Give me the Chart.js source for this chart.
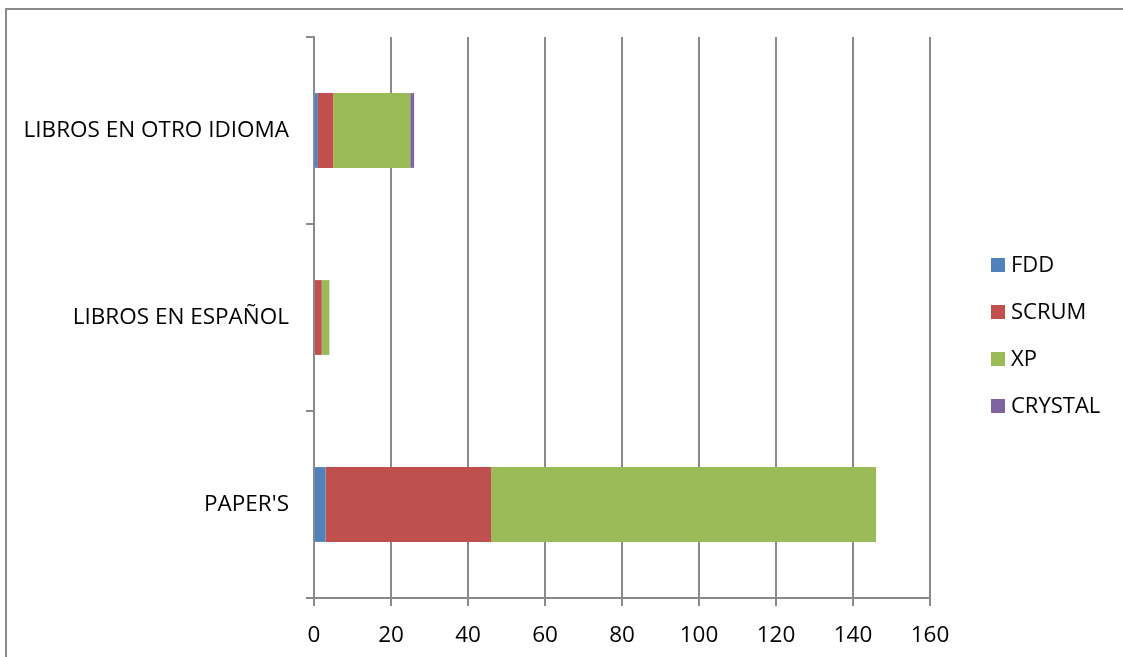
<!DOCTYPE html>
<html>
<head>
<meta charset="utf-8">
<title>Metodologías ágiles por tipo de fuente</title>
<script src="https://cdn.jsdelivr.net/npm/chart.js@4.4.1/dist/chart.umd.min.js"></script>
<style>
  html, body { margin: 0; padding: 0; background: #ffffff; }
  #wrap { position: relative; width: 1123px; height: 657px; }
  canvas { display: block; }
</style>
</head>
<body>
<div id="wrap"><canvas id="chart" width="1123" height="657"></canvas></div>
<script>
// Source types (top to bottom)
const categories = ['LIBROS EN OTRO IDIOMA', 'LIBROS EN ESPAÑOL', "PAPER'S"];

// Number of sources per methodology
const fddValues     = [1, 0, 3];
const scrumValues   = [4, 2, 43];
const xpValues      = [20, 2, 100];
const crystalValues = [1, 0, 0];

const seriesNames = ['FDD', 'SCRUM', 'XP', 'CRYSTAL'];

// Value axis ticks
const axisTicks = [0, 20, 40, 60, 80, 100, 120, 140, 160];

const FONT = '"Open Sans", "Liberation Sans", sans-serif';
const GRID = '#8a8a8a';

// Outer frame of the chart object
const framePlugin = {
  id: 'frame',
  beforeDraw(chart) {
    const ctx = chart.ctx;
    ctx.save();
    ctx.strokeStyle = GRID;
    ctx.lineWidth = 2;
    ctx.beginPath();
    ctx.moveTo(6, chart.height + 2);
    ctx.lineTo(6, 9);
    ctx.lineTo(chart.width + 2, 9);
    ctx.stroke();
    ctx.restore();
  }
};

// Legend on the right, built from the datasets
const sideLegend = {
  id: 'sideLegend',
  afterDraw(chart, args, opts) {
    const ctx = chart.ctx;
    ctx.save();
    ctx.font = opts.fontSize + 'px ' + FONT;
    ctx.textBaseline = 'middle';
    ctx.textAlign = 'left';
    chart.data.datasets.forEach((ds, i) => {
      const cy = opts.top + i * opts.spacing;
      ctx.fillStyle = ds.backgroundColor;
      ctx.fillRect(opts.left, cy - opts.box / 2, opts.box, opts.box);
      ctx.fillStyle = '#000000';
      ctx.fillText(ds.label, opts.left + opts.box + opts.gap, cy + 1);
    });
    ctx.restore();
  }
};

const colors = ['#4F81BD', '#C0504D', '#9BBB59', '#8064A2'];
const seriesValues = [fddValues, scrumValues, xpValues, crystalValues];

new Chart(document.getElementById('chart'), {
  type: 'bar',
  data: {
    labels: categories,
    datasets: seriesNames.map((name, i) => ({
      label: name,
      data: seriesValues[i],
      backgroundColor: colors[i],
      borderWidth: 0,
      barPercentage: 0.4,
      categoryPercentage: 1.0
    }))
  },
  options: {
    indexAxis: 'y',
    responsive: false,
    animation: false,
    devicePixelRatio: 1,
    layout: { padding: { left: 0, right: 193, top: 37, bottom: 0 } },
    plugins: {
      legend: { display: false },
      tooltip: { enabled: false },
      sideLegend: { left: 991, top: 265, spacing: 47, box: 14, gap: 6, fontSize: 22 }
    },
    scales: {
      x: {
        stacked: true,
        min: 0,
        max: 160,
        afterBuildTicks(scale) {
          scale.ticks = axisTicks.map(v => ({ value: v }));
        },
        afterFit(scale) { scale.height = 59; },
        grid: {
          color: GRID,
          lineWidth: 2,
          drawTicks: true,
          tickLength: 8,
          tickColor: GRID
        },
        border: { display: true, color: GRID, width: 2 },
        ticks: {
          color: '#000000',
          font: { family: FONT, size: 22.5 },
          padding: 16,
          maxRotation: 0
        }
      },
      y: {
        stacked: true,
        afterFit(scale) { scale.width = 314; },
        grid: {
          offset: true,
          drawOnChartArea: false,
          drawTicks: true,
          tickLength: 8,
          color: GRID,
          lineWidth: 2
        },
        border: { display: true, color: GRID, width: 2 },
        ticks: {
          color: '#000000',
          font: { family: FONT, size: 22.5 },
          padding: 17
        }
      }
    }
  },
  plugins: [framePlugin, sideLegend]
});
</script>
</body>
</html>
